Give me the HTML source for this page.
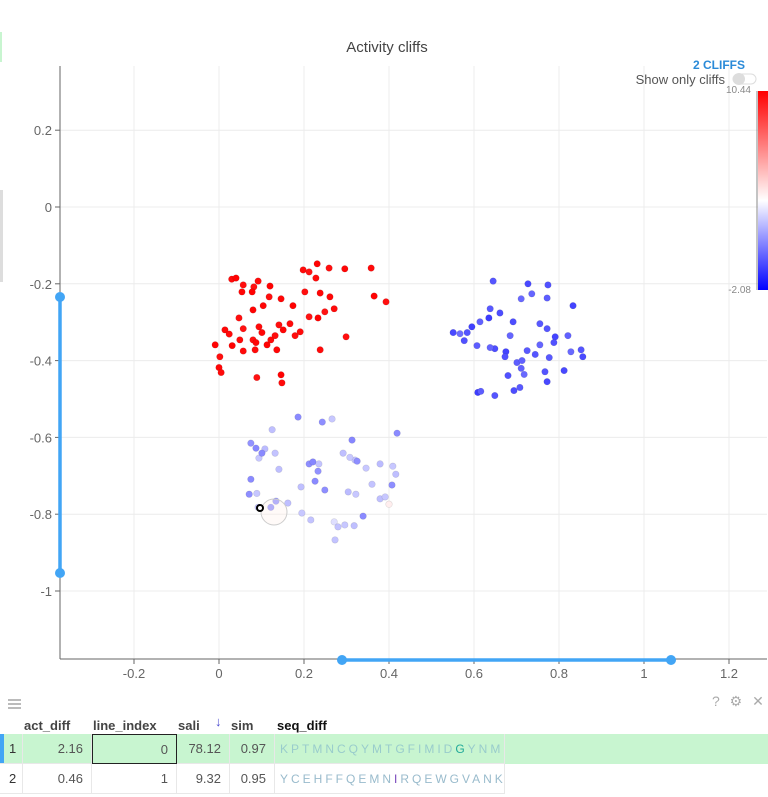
<!DOCTYPE html>
<html><head><meta charset="utf-8"><style>
body{margin:0;width:768px;height:797px;overflow:hidden;background:#fff;font-family:"Liberation Sans",sans-serif;position:relative}
svg{position:absolute;left:0;top:0}
.tbl{position:absolute;left:0;top:690px;width:768px;height:107px;font-size:13px;color:#333}
.cell{position:absolute;height:30px;line-height:30px;box-sizing:border-box;border-right:1px solid #e8e8e8;border-bottom:1px solid #e8e8e8;text-align:right;padding-right:8px;color:#555;white-space:nowrap;overflow:hidden}
.hd{position:absolute;top:28px;font-weight:bold;color:#444;font-size:13px}
.seq{letter-spacing:3px;font-family:"Liberation Sans",sans-serif;font-size:12px}
</style></head><body>
<div style="position:absolute;left:0;top:32px;width:2px;height:30px;background:#c8f5d0"></div>
<div style="position:absolute;left:0;top:190px;width:3px;height:92px;background:#ddd"></div>
<svg id="chart" width="768" height="690">
<text x="387" y="52" text-anchor="middle" font-size="15" fill="#444">Activity cliffs</text>
<g id="grid"></g><g id="pts"></g><g id="ov"></g>
</svg>
<div class="tbl">
 <div style="position:absolute;left:8px;top:9px;width:13px;height:2px;background:#bbb;box-shadow:0 4px 0 #bbb,0 8px 0 #bbb"></div>
 <div style="position:absolute;left:712px;top:3px;color:#aaa;font-size:14px;letter-spacing:3px;white-space:nowrap">? ⚙ ✕</div>
 <div class="hd" style="left:24px">act_diff</div>
 <div class="hd" style="left:93px">line_index</div>
 <div class="hd" style="left:178px">sali</div>
 <div style="position:absolute;left:215px;top:24px;color:#4a4ad0">↓</div>
 <div class="hd" style="left:231px">sim</div>
 <div class="hd" style="left:277px;color:#111">seq_diff</div>
 <div style="position:absolute;left:0;top:44px;width:768px;height:30px;background:#c8f5d0"></div>
 <div style="position:absolute;left:0;top:44px;width:4px;height:30px;background:#42a5f5"></div>
 <div class="cell" style="left:0;top:44px;width:23px;text-align:left;padding-left:9px;color:#333">1</div>
 <div class="cell" style="left:23px;top:44px;width:69px">2.16</div>
 <div class="cell" style="left:92px;top:44px;width:85px;border:1px solid #222">0</div>
 <div class="cell" style="left:177px;top:44px;width:53px">78.12</div>
 <div class="cell" style="left:230px;top:44px;width:45px">0.97</div>
 <div class="cell seq" style="left:275px;top:44px;width:230px;text-align:left;padding-left:5px;color:#9cc">KPTMNCQYMTGFIMID<span style="color:#2a9">G</span>YNM</div>
 <div class="cell" style="left:0;top:74px;width:23px;text-align:left;padding-left:9px;color:#333">2</div>
 <div class="cell" style="left:23px;top:74px;width:69px">0.46</div>
 <div class="cell" style="left:92px;top:74px;width:85px">1</div>
 <div class="cell" style="left:177px;top:74px;width:53px">9.32</div>
 <div class="cell" style="left:230px;top:74px;width:45px">0.95</div>
 <div class="cell seq" style="left:275px;top:74px;width:230px;text-align:left;padding-left:5px;color:#9bc">YCEHFFQEMN<span style="color:#74b">I</span>RQEWGVANK</div>
</div>
<script>
const xTicks=[-0.2,0,0.2,0.4,0.6,0.8,1,1.2];
const yTicks=[0.2,0,-0.2,-0.4,-0.6,-0.8,-1];
const redX=[0.03,0.04,0.057,0.054,0.082,0.092,0.12,0.118,0.146,0.198,0.212,0.231,0.228,0.259,0.296,0.358,0.365,0.393,0.261,0.271,0.249,0.174,0.167,0.141,0.104,0.094,0.08,0.047,0.014,0.024,0.057,0.031,0.049,0.08,0.087,0.085,0.113,0.132,0.151,0.191,0.212,0.233,0.238,0.299,0.136,0.057,-0.009,0.002,0,0.005,0.089,0.146,0.148,0.179,0.101,0.122,0.078,0.202,0.238];
const redY=[-0.188,-0.185,-0.203,-0.221,-0.208,-0.193,-0.206,-0.234,-0.239,-0.164,-0.169,-0.148,-0.185,-0.159,-0.161,-0.159,-0.232,-0.247,-0.234,-0.265,-0.273,-0.257,-0.304,-0.307,-0.257,-0.312,-0.268,-0.289,-0.320,-0.331,-0.317,-0.361,-0.346,-0.346,-0.353,-0.372,-0.359,-0.335,-0.320,-0.325,-0.286,-0.289,-0.372,-0.338,-0.372,-0.375,-0.359,-0.390,-0.418,-0.431,-0.444,-0.437,-0.458,-0.335,-0.327,-0.346,-0.221,-0.221,-0.224];
const redV=[10.2,10.4,10.1,10.3,10,10.2,10.4,10.1,10.3,10.2,10,10.4,10.2,10.1,10.3,10.2,10.4,10.1,10.3,10.2,10,10.4,10.2,10.1,10.3,10.2,10.4,10.1,10.3,10.2,10,10.4,10.2,10.1,10.3,10.2,10.4,10.1,10.3,10.2,10,10.4,10.2,10.1,10.3,10.2,10.4,10.1,10.3,10.2,10,10.4,10.2,10.1,10.3,10.2,10.4,10.1,10.3];
const blueX=[0.645,0.727,0.736,0.774,0.772,0.833,0.711,0.661,0.638,0.635,0.614,0.584,0.551,0.567,0.577,0.607,0.595,0.685,0.692,0.755,0.772,0.791,0.821,0.788,0.828,0.856,0.852,0.725,0.649,0.638,0.675,0.701,0.68,0.711,0.767,0.772,0.708,0.718,0.694,0.649,0.609,0.616,0.673,0.713,0.812,0.777,0.744,0.755];
const blueY=[-0.193,-0.2,-0.226,-0.203,-0.237,-0.257,-0.239,-0.276,-0.265,-0.289,-0.299,-0.327,-0.327,-0.33,-0.348,-0.361,-0.312,-0.335,-0.299,-0.304,-0.317,-0.338,-0.335,-0.353,-0.377,-0.39,-0.372,-0.374,-0.369,-0.366,-0.377,-0.405,-0.439,-0.42,-0.429,-0.455,-0.47,-0.436,-0.478,-0.491,-0.483,-0.48,-0.39,-0.4,-0.426,-0.392,-0.384,-0.359];
const blueV=[0,-0.3,0.4,-0.1,0.2,-0.4,0.5,-0.2,0.1,-0.6,0.3,0,-0.3,0.6,-0.1,0.2,-0.5,0.4,-0.2,0.1,0,-0.4,0.3,-0.1,0.5,-0.3,0,0.1,-0.2,0.4,-0.4,0.2,-0.1,0.3,0,-0.3,0.1,0.5,-0.2,0,-0.6,0.2,-0.1,0.3,-0.3,0.1,0,0.4];
const midV=[1.3,1.4,2.8,2.6,1.2,2.5,2.7,1.5,2.8,1.3,1.2,2.6,2.7,1.4,2.8,2.5,2.8,2.6,1.3,1.4,1.2,1.5,2.7,1.3,2.6,1.4,2.8,2.5,2.7,2.8,2.6,1.3,1.4,1.3,2.7,2.8,1.4,2.6,2.8,2.7,3.4,2.7,2.8,2.6,2.7,2.6,2.8,1.4,4.6,1.3];
const midX=[0.186,0.243,0.266,0.125,0.087,0.108,0.132,0.075,0.094,0.101,0.313,0.292,0.32,0.325,0.346,0.379,0.409,0.416,0.419,0.212,0.221,0.233,0.235,0.226,0.193,0.249,0.308,0.304,0.36,0.322,0.141,0.075,0.071,0.122,0.092,0.089,0.134,0.162,0.195,0.216,0.271,0.28,0.296,0.318,0.273,0.379,0.391,0.407,0.4,0.339];
const midY=[-0.547,-0.56,-0.552,-0.58,-0.628,-0.63,-0.641,-0.615,-0.654,-0.641,-0.607,-0.641,-0.659,-0.662,-0.68,-0.669,-0.675,-0.696,-0.589,-0.669,-0.664,-0.688,-0.669,-0.714,-0.729,-0.737,-0.652,-0.742,-0.722,-0.748,-0.683,-0.709,-0.748,-0.782,-0.782,-0.746,-0.766,-0.771,-0.797,-0.815,-0.82,-0.833,-0.828,-0.83,-0.867,-0.76,-0.755,-0.724,-0.774,-0.805];
const cMin=-2.08,cMax=10.44;
const ns='http://www.w3.org/2000/svg';
const X0=60,X1=767,Y0=66,Y1=659;
function sx(v){return 219+v*425;}
function sy(v){return 207-v*384;}
function col(v){const m=(cMin+cMax)/2;let r,g,b;if(v<m){const t=(v-cMin)/(m-cMin);r=g=Math.round(255*t);b=255;}else{const t=(v-m)/(cMax-m);r=255;g=b=Math.round(255*(1-t));}return `rgb(${r},${g},${b})`;}
function mk(p,tag,at){const e=document.createElementNS(ns,tag);for(const k in at)e.setAttribute(k,at[k]);p.appendChild(e);return e;}
const grid=document.getElementById('grid');
xTicks.forEach(t=>{const x=sx(t);
 const l=mk(grid,'line',{x1:x,x2:x,y1:Y0,y2:Y1,stroke:'#ececec'});
 
 
 mk(grid,'line',{x1:x,x2:x,y1:Y1,y2:Y1+5,stroke:'#666'});
 const tx=mk(grid,'text',{x:x,y:Y1+19,'text-anchor':'middle','font-size':13,fill:'#666'});tx.textContent=String(t);
 
 });
yTicks.forEach(t=>{const y=sy(t);
 const l=mk(grid,'line',{x1:X0,x2:X1,y1:y,y2:y,stroke:'#ececec'});
 
 
 mk(grid,'line',{x1:X0-5,x2:X0,y1:y,y2:y,stroke:'#666'});
 const tx=mk(grid,'text',{x:X0-8,y:y+5,'text-anchor':'end','font-size':13,fill:'#666'});tx.textContent=String(t);
 
 });
mk(grid,'line',{x1:X0,x2:X0,y1:Y0,y2:Y1,stroke:'#666'});
mk(grid,'line',{x1:X0,x2:X1,y1:Y1,y2:Y1,stroke:'#666'});
const pts=document.getElementById('pts');
function draw(xs,ys,vs,name){xs.forEach((x,i)=>{const c=mk(pts,'circle',{cx:sx(x),cy:sy(ys[i]),r:3.3,fill:col(vs[i]),stroke:'rgba(0,0,0,0.12)','stroke-width':0.6});
 
 });}
draw(redX,redY,redV,'point-red-cluster');
draw(blueX,blueY,blueV,'point-blue-cluster');
draw(midX,midY,midV,'point-mid-cluster');
const ov=document.getElementById('ov');
mk(ov,'circle',{cx:274,cy:512,r:13,fill:'rgba(255,240,235,0.35)',stroke:'#ccc'});
mk(ov,'circle',{cx:260,cy:508,r:3,fill:'#fff',stroke:'#000','stroke-width':2});
mk(ov,'line',{x1:60,x2:60,y1:297,y2:573,stroke:'#42a5f5','stroke-width':3.5});
mk(ov,'circle',{cx:60,cy:297,r:5,fill:'#42a5f5'});mk(ov,'circle',{cx:60,cy:573,r:5,fill:'#42a5f5'});
mk(ov,'line',{x1:342,x2:671,y1:660,y2:660,stroke:'#42a5f5','stroke-width':3.5});
mk(ov,'circle',{cx:342,cy:660,r:5,fill:'#42a5f5'});mk(ov,'circle',{cx:671,cy:660,r:5,fill:'#42a5f5'});
const cl=mk(ov,'text',{x:745,y:69,'text-anchor':'end','font-size':12,'font-weight':'bold',fill:'#2a8ad8'});cl.textContent='2 CLIFFS';


const so=mk(ov,'text',{x:725,y:84,'text-anchor':'end','font-size':13,fill:'#555'});so.textContent='Show only cliffs';


const tg=mk(ov,'rect',{x:733,y:74,width:23,height:10,rx:5,fill:'#fff',stroke:'#ddd'});


mk(ov,'circle',{cx:739,cy:79,r:6,fill:'#ddd'});
const defs=mk(ov,'defs',{});const gr=mk(defs,'linearGradient',{id:'cg',x1:0,y1:0,x2:0,y2:1});
mk(gr,'stop',{offset:'0','stop-color':'#f00'});mk(gr,'stop',{offset:'0.55','stop-color':'#fff'});mk(gr,'stop',{offset:'1','stop-color':'#00f'});
const cb=mk(ov,'rect',{x:758,y:91,width:10,height:199,fill:'url(#cg)'});


mk(ov,'line',{x1:757,x2:757,y1:91,y2:290,stroke:'#888'});
[[cMax,93],[cMin,293]].forEach(([v,y])=>{const t=mk(ov,'text',{x:751,y:y,'text-anchor':'end','font-size':10,fill:'#888'});t.textContent=v.toFixed(2);
 
 });
</script>
</body></html>
